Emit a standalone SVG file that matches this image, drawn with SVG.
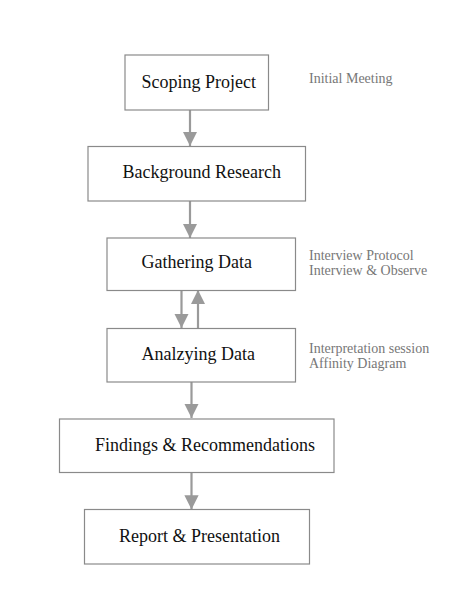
<svg xmlns="http://www.w3.org/2000/svg" width="465" height="612" viewBox="0 0 465 612">
<style>
.box{fill:#fff;stroke:#8a8a8a;stroke-width:1.2}
.t{font-family:"Liberation Serif","Times New Roman",serif;font-size:18px;fill:#111}
.n{font-family:"Liberation Serif","Times New Roman",serif;font-size:14px;fill:#777}
.c{stroke:#9a9a9a;stroke-width:2.2;fill:none}
</style>
<defs>
<marker id="ah" viewBox="0 0 10 10" refX="10" refY="5" markerWidth="6.5" markerHeight="6.5" markerUnits="strokeWidth" orient="auto">
<path d="M0,0 L10,5 L0,10 z" fill="#9a9a9a"/>
</marker>
</defs>
<rect width="465" height="612" fill="#fff"/>
<g id="connectors">
<line class="c" x1="190" y1="110" x2="190" y2="146" marker-end="url(#ah)"/>
<line class="c" x1="190" y1="201" x2="190" y2="238" marker-end="url(#ah)"/>
<line class="c" x1="181.5" y1="290" x2="181.5" y2="328" marker-end="url(#ah)"/>
<line class="c" x1="198" y1="328" x2="198" y2="290" marker-end="url(#ah)"/>
<line class="c" x1="191.5" y1="382" x2="191.5" y2="418" marker-end="url(#ah)"/>
<line class="c" x1="191.5" y1="473" x2="191.5" y2="509.5" marker-end="url(#ah)"/>
</g>
<g id="scoping">
<rect class="box" x="125" y="55" width="143.5" height="55"/>
<text class="t" x="141.5" y="88">Scoping Project</text>
</g>
<text class="n" x="309" y="83">Initial Meeting</text>
<g id="background">
<rect class="box" x="88" y="146.5" width="217.5" height="54.5"/>
<text class="t" x="122.5" y="178">Background Research</text>
</g>
<g id="gathering">
<rect class="box" x="107" y="238" width="188.5" height="52.5"/>
<text class="t" x="141.5" y="268">Gathering Data</text>
</g>
<text class="n" x="309" y="260">Interview Protocol</text>
<text class="n" x="309" y="275">Interview &amp; Observe</text>
<g id="analyzing">
<rect class="box" x="107" y="328.5" width="188.5" height="53.5"/>
<text class="t" x="141.5" y="360">Analzying Data</text>
</g>
<text class="n" x="309" y="353">Interpretation session</text>
<text class="n" x="309" y="368">Affinity Diagram</text>
<g id="findings">
<rect class="box" x="59.5" y="419" width="274.5" height="53.5"/>
<text class="t" x="95" y="450.5">Findings &amp; Recommendations</text>
</g>
<g id="report">
<rect class="box" x="84.5" y="509.5" width="225" height="54.5"/>
<text class="t" x="119" y="541.5">Report &amp; Presentation</text>
</g>
</svg>
